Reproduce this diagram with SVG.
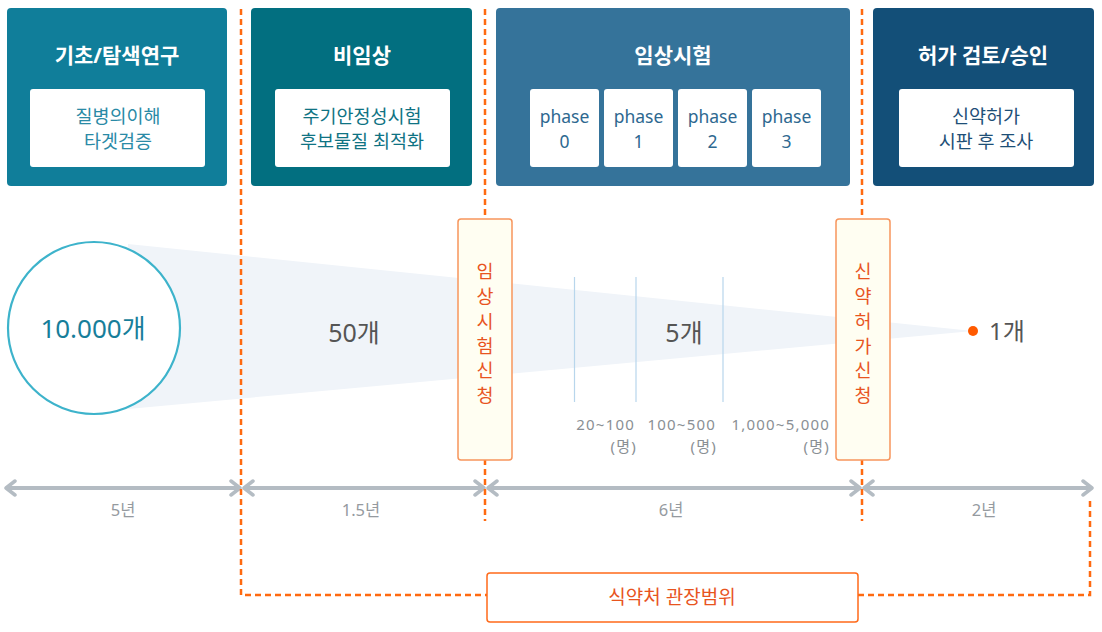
<svg xmlns="http://www.w3.org/2000/svg" width="1102" height="632" viewBox="0 0 1102 632">
<style>
.t{font-family:"Noto Sans","Noto Sans CJK KR",sans-serif}
.title{font-size:21px;font-weight:bold;fill:#ffffff;text-anchor:middle}
.inner{font-size:18.5px;text-anchor:middle}
.phs{font-size:17.5px;text-anchor:middle;fill:#2e6890}
.wbox{fill:#ffffff}
.dash{fill:none;stroke:#ff6a10;stroke-width:2.5;stroke-dasharray:6 4}
.tl{stroke:#b4bcc3;stroke-width:4;fill:none}
.yr{font-size:16.5px;fill:#959a9f;text-anchor:middle}
.cnt{font-size:25px;fill:#555555;text-anchor:middle}
.apply{fill:#fffef2;stroke:#f7955c;stroke-width:1.5}
.vt{font-size:18.5px;fill:#e8541e;text-anchor:middle}
.num{font-size:15px;fill:#8a8f94;text-anchor:end;letter-spacing:1.2px}
.ph{stroke:#b8d6ec;stroke-width:1.2}
</style>
<defs>
<marker id="chev" viewBox="0 0 14 18" refX="12" refY="9" markerWidth="14" markerHeight="18" orient="auto-start-reverse" markerUnits="userSpaceOnUse">
<path d="M3,2 L12,9 L3,16" fill="none" stroke="#b4bcc3" stroke-width="3.5" stroke-linecap="round" stroke-linejoin="round"/>
</marker>
</defs>

<polygon id="funnel" points="128,244 973,331 128,409" fill="#f0f4f9"/>

<g id="stage-basic">
<rect x="7" y="8" width="220" height="178" rx="4" fill="#107e9a"/>
<text class="t title" x="117" y="63">기초/탐색연구</text>
<rect class="wbox" x="30" y="89" width="175" height="78" rx="3"/>
<text class="t inner" x="118" y="123" fill="#2a8aa6">질병의이해</text>
<text class="t inner" x="118" y="148" fill="#2a8aa6">타겟검증</text>
</g>

<g id="stage-preclinical">
<rect x="251" y="8" width="221" height="178" rx="4" fill="#026f80"/>
<text class="t title" x="362" y="63">비임상</text>
<rect class="wbox" x="275" y="89" width="175" height="78" rx="3"/>
<text class="t inner" x="362" y="123" fill="#0f7383">주기안정성시험</text>
<text class="t inner" x="362" y="148" fill="#0f7383">후보물질 최적화</text>
</g>

<g id="stage-clinical">
<rect x="496" y="8" width="354" height="178" rx="4" fill="#35739a"/>
<text class="t title" x="673" y="63">임상시험</text>
<rect class="wbox" x="530" y="89" width="69" height="78" rx="3"/>
<text class="t phs" x="564.5" y="123">phase</text>
<text class="t phs" x="564.5" y="148">0</text>
<rect class="wbox" x="604" y="89" width="69" height="78" rx="3"/>
<text class="t phs" x="638.5" y="123">phase</text>
<text class="t phs" x="638.5" y="148">1</text>
<rect class="wbox" x="678" y="89" width="69" height="78" rx="3"/>
<text class="t phs" x="712.5" y="123">phase</text>
<text class="t phs" x="712.5" y="148">2</text>
<rect class="wbox" x="752" y="89" width="69" height="78" rx="3"/>
<text class="t phs" x="786.5" y="123">phase</text>
<text class="t phs" x="786.5" y="148">3</text>
</g>

<g id="stage-approval">
<rect x="873" y="8" width="221" height="178" rx="4" fill="#134f78"/>
<text class="t title" x="983" y="63">허가 검토/승인</text>
<rect class="wbox" x="899" y="89" width="175" height="78" rx="3"/>
<text class="t inner" x="986" y="123" fill="#1e4f77">신약허가</text>
<text class="t inner" x="986" y="148" fill="#1e4f77">시판 후 조사</text>
</g>

<g id="candidates">
<circle cx="94" cy="328" r="86" fill="#ffffff" stroke="#3db3cb" stroke-width="2.2"/>
<text class="t" x="93" y="338" font-size="26" fill="#177e9a" text-anchor="middle">10.000개</text>
<text class="t cnt" x="354" y="342">50개</text>
<text class="t cnt" x="684" y="342">5개</text>
<circle cx="973" cy="331" r="5" fill="#ff5a00"/>
<text class="t" x="989" y="340" font-size="24" fill="#555555">1개</text>
</g>

<g id="phase-lines">
<line class="ph" x1="574.5" y1="277" x2="574.5" y2="402"/>
<line class="ph" x1="636" y1="277" x2="636" y2="402"/>
<line class="ph" x1="723" y1="277" x2="723" y2="402"/>
<text class="t num" x="635" y="430">20~100</text>
<text class="t num" x="637" y="452">(명)</text>
<text class="t num" x="716" y="430">100~500</text>
<text class="t num" x="717" y="452">(명)</text>
<text class="t num" x="830" y="430">1,000~5,000</text>
<text class="t num" x="830" y="452">(명)</text>
</g>

<g id="connectors">
<line class="tl" x1="6" y1="488" x2="240" y2="488" marker-start="url(#chev)" marker-end="url(#chev)"/>
<line class="tl" x1="244" y1="488" x2="484" y2="488" marker-start="url(#chev)" marker-end="url(#chev)"/>
<line class="tl" x1="488" y1="488" x2="860" y2="488" marker-start="url(#chev)" marker-end="url(#chev)"/>
<line class="tl" x1="864" y1="488" x2="1092" y2="488" marker-start="url(#chev)" marker-end="url(#chev)"/>
<path class="dash" d="M241,9 V595 H487"/>
<path class="dash" d="M485,9 V521"/>
<path class="dash" d="M862,9 V521"/>
<path class="dash" d="M858,595 H1090 V501"/>
</g>

<g id="years">
<text class="t yr" x="123" y="516">5년</text>
<text class="t yr" x="361" y="516">1.5년</text>
<text class="t yr" x="671" y="516">6년</text>
<text class="t yr" x="984" y="516">2년</text>
</g>

<g id="apply-clinical">
<rect class="apply" x="458" y="219" width="54" height="241" rx="3"/>
<text class="t vt" x="485" y="277.5">임</text>
<text class="t vt" x="485" y="302.5">상</text>
<text class="t vt" x="485" y="327.5">시</text>
<text class="t vt" x="485" y="352.5">험</text>
<text class="t vt" x="485" y="377">신</text>
<text class="t vt" x="485" y="401.5">청</text>
</g>

<g id="apply-approval">
<rect class="apply" x="836" y="219" width="54" height="241" rx="3"/>
<text class="t vt" x="863" y="277.5">신</text>
<text class="t vt" x="863" y="302.5">약</text>
<text class="t vt" x="863" y="327.5">허</text>
<text class="t vt" x="863" y="352.5">가</text>
<text class="t vt" x="863" y="377">신</text>
<text class="t vt" x="863" y="401.5">청</text>
</g>

<g id="mfds-scope">
<rect x="487" y="573" width="371" height="49" rx="3" fill="#ffffff" stroke="#ff6a1a" stroke-width="1.5"/>
<text class="t" x="672" y="604" font-size="19" fill="#e8541e" text-anchor="middle">식약처 관장범위</text>
</g>
</svg>
